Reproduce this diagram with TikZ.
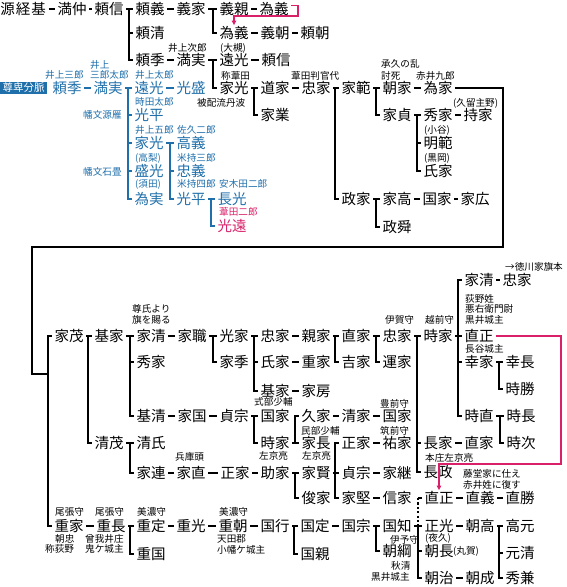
\documentclass[tikz,border=0pt]{standalone}
\usepackage{fontspec}
\setmainfont{Noto Sans CJK JP}
\usetikzlibrary{arrows.meta}
\definecolor{bl}{HTML}{1F6FAB}
\definecolor{pk}{HTML}{D9216A}
\newcommand\famlink[3][]{\foreach \ch in {#3}{\draw[ln,#1] (#2.east) -| ([xshift=-3.5pt]\ch.west) -- (\ch.west);}}
\newcommand\seqlink[3][]{\draw[ln,#1] (#2.east) -- (#3.west);}
\tikzset{
  nm/.style={font=\fontsize{14.5}{15}\selectfont, anchor=west, inner xsep=2.5pt, inner ysep=1pt, xshift=-3.2pt},
  bn/.style={nm, text=bl},
  pn/.style={nm, text=pk},
  an/.style={font=\fontsize{9.6}{10}\selectfont, anchor=west, inner sep=0pt},
  ban/.style={an, text=bl},
  pan/.style={an, text=pk},
  ln/.style={line width=2pt},
  loopln/.style={line width=2.6pt},
  pkln/.style={draw=pk, line width=1.3pt, -{Triangle[length=4.5pt,width=4.5pt]}},
  dotln/.style={line width=2pt, dash pattern=on 2.2pt off 2.2pt},
}
\begin{document}
\begin{tikzpicture}[x=1pt,y=-1pt]
\useasboundingbox (0,0) rectangle (567,587);
% ---------- top black ----------
\node[nm] (genkeiki) at (1,9) {源\hspace{1pt}経\hspace{1pt}基};
\node[nm] (mitsunaka) at (58,9) {満仲};
\node[nm] (yorinobu) at (95,9) {頼信};
\node[nm] (yoriyoshi) at (136,9) {頼義};
\node[nm] (yoshiie) at (177,9) {義家};
\node[nm] (yoshichika) at (220,9) {義親};
\node[nm] (tameyoshi) at (260,9) {為義};
\node[nm] (tameyoshiB) at (220,33) {為義};
\node[nm] (yoshitomo) at (261,33) {義朝};
\node[nm] (yoritomo) at (301,33) {頼朝};
\node[nm] (yorikiyo) at (136,33) {頼清};
\node[nm] (yorisue) at (136,60) {頼季};
\node[nm] (mitsuzane) at (177,60) {満実};
\node[nm] (tomitsu) at (220,60) {遠光};
\node[nm] (yorinobuB) at (262,60) {頼信};
\node[nm] (iemitsu) at (220,88) {家光};
\node[nm] (michiie) at (261,88) {道家};
\node[nm] (tadaie) at (302,88) {忠家};
\node[nm] (ienori) at (342,88) {家範};
\node[nm] (tomoie) at (383,88) {朝家};
\node[nm] (tameie) at (424,88) {為家};
\node[nm] (iegyo) at (261,115) {家業};
\node[nm] (iesada) at (383,115) {家貞};
\node[nm] (hideie) at (424,115) {秀家};
\node[nm] (mochiie) at (464,115) {持家};
\node[nm] (akinori) at (424,143) {明範};
\node[nm] (ujiie) at (424,171) {氏家};
\node[nm] (masaie) at (342,199) {政家};
\node[nm] (ietaka) at (383,199) {家高};
\node[nm] (kuniie) at (423,199) {国家};
\node[nm] (iehiro) at (461,199) {家広};
\node[nm] (masakiyo) at (383,227) {政舜};
\node[an] (t1) at (168,47.5) {井上次郎};
\node[an] (t2) at (220,48.5) {(大槻)};
\node[an] (t3) at (221,75.5) {称葦田};
\node[an] (t4) at (291,75.5) {葦田判官代};
\node[an] (t5) at (381,64) {承久の乱};
\node[an] (t6) at (381,76) {討死};
\node[an] (t7) at (416,76) {赤井九郎};
\node[an] (t8) at (197,103) {被配流丹波};
\node[an] (t9) at (453,103) {(久留主野)};
\node[an] (t10) at (424,130) {(小谷)};
\node[an] (t11) at (424,158.5) {(黒岡)};
% ---------- blue ----------
\node[fill=bl,text=white,font=\fontsize{10.5}{11}\selectfont,minimum width=47pt,minimum height=12.5pt,inner sep=0pt] (sonpi) at (23.5,88) {尊卑分脈};
\node[bn] (bYorisue) at (53,88) {頼季};
\node[bn] (bMitsuzane) at (94,88) {満実};
\node[bn] (bTomitsu) at (135,88) {遠光};
\node[bn] (bMitsumori) at (177,88) {光盛};
\node[bn] (bMitsuhira) at (135,115) {光平};
\node[bn] (bIemitsu) at (135,143) {家光};
\node[bn] (bTakayoshi) at (177,143) {高義};
\node[bn] (bMorimitsu) at (135,171) {盛光};
\node[bn] (bTadayoshi) at (177,171) {忠義};
\node[bn] (bTamezane) at (135,199) {為実};
\node[bn] (bMitsuhiraB) at (177,199) {光平};
\node[bn] (bNagamitsu) at (218,199) {長光};
\node[pn] (pMitsuto) at (218,226) {光遠};
\node[ban] (b1) at (45,75) {井上三郎};
\node[ban] (b2) at (90,64.5) {井上};
\node[ban] (b3) at (90,75) {三郎太郎};
\node[ban] (b4) at (135,75) {井上太郎};
\node[ban] (b5) at (135,102) {時田太郎};
\node[ban] (b6) at (83,115) {幡文源雁};
\node[ban] (b7) at (135,130) {井上五郎};
\node[ban] (b8) at (177,130) {佐久二郎};
\node[ban] (b9) at (135,158) {(高梨)};
\node[ban] (b10) at (83,172) {幡文石畳};
\node[ban] (b11) at (177,158) {米持三郎};
\node[ban] (b12) at (135,184) {(須田)};
\node[ban] (b13) at (177,184) {米持四郎};
\node[ban] (b14) at (219,184) {安木田二郎};
\node[pan] (b15) at (219,212) {葦田二郎};
% ---------- lower ----------
\node[nm] (lIekiyo) at (465,280) {家清};
\node[nm] (lTadaie) at (503,280) {忠家};
\node[an] (c0) at (505,267) {→徳川家旗本};
\node[nm] (iemochi) at (55,336) {家茂};
\node[nm] (motoie) at (95,336) {基家};
\node[nm] (iekiyo) at (137,336) {家清};
\node[nm] (ieoto) at (178,336) {家職};
\node[nm] (mitsuie) at (220,336) {光家};
\node[nm] (tadaieC) at (261,336) {忠家};
\node[nm] (chikaie) at (302,336) {親家};
\node[nm] (naoie) at (342,336) {直家};
\node[nm] (tadaieD) at (383,336) {忠家};
\node[nm] (tokiie) at (424,336) {時家};
\node[nm] (naomasa) at (465,336) {直正};
\node[nm] (hideieB) at (137,362) {秀家};
\node[nm] (iesue) at (220,362) {家季};
\node[nm] (ujiieB) at (261,362) {氏家};
\node[nm] (shigeie) at (302,362) {重家};
\node[nm] (yoshiieB) at (342,362) {吉家};
\node[nm] (kazuie) at (383,362) {運家};
\node[nm] (yukiie) at (465,362) {幸家};
\node[nm] (yukinaga) at (506,362) {幸長};
\node[nm] (tokikatsu) at (506,389) {時勝};
\node[nm] (motoieB) at (261,391) {基家};
\node[nm] (iefusa) at (302,391) {家房};
\node[nm] (motokiyo) at (137,416) {基清};
\node[nm] (iekuni) at (178,416) {家国};
\node[nm] (sadamune) at (220,416) {貞宗};
\node[nm] (kuniieB) at (261,416) {国家};
\node[nm] (hisaie) at (302,416) {久家};
\node[nm] (kiyoie) at (342,416) {清家};
\node[nm] (kuniieC) at (383,416) {国家};
\node[nm] (tokinao) at (465,416) {時直};
\node[nm] (tokinaga) at (507,416) {時長};
\node[nm] (kiyoshige) at (95,443) {清茂};
\node[nm] (kiyouji) at (137,443) {清氏};
\node[nm] (tokiieB) at (261,443) {時家};
\node[nm] (ienaga) at (302,443) {家長};
\node[nm] (masaieB) at (342,443) {正家};
\node[nm] (sukeie) at (383,443) {祐家};
\node[nm] (nagaie) at (424,443) {長家};
\node[nm] (naoieB) at (465,443) {直家};
\node[nm] (tokitsugu) at (507,443) {時次};
\node[nm] (ietsura) at (137,473) {家連};
\node[nm] (ienao) at (177,473) {家直};
\node[nm] (masaieC) at (221,473) {正家};
\node[nm] (sukeieB) at (261,473) {助家};
\node[nm] (iekata) at (302,473) {家賢};
\node[nm] (sadamuneB) at (342,473) {貞宗};
\node[nm] (ietsugu) at (383,473) {家継};
\node[nm] (nagamasa) at (424,472) {長政};
\node[nm] (toshiie) at (302,498) {俊家};
\node[nm] (iekataB) at (342,498) {家堅};
\node[nm] (nobuie) at (383,498) {信家};
\node[nm] (naomasaB) at (425,498) {直正};
\node[nm] (naoyoshi) at (466,498) {直義};
\node[nm] (naokatsu) at (506,498) {直勝};
\node[nm] (shigeieB) at (55,526) {重家};
\node[nm] (shiganaga) at (97,526) {重長};
\node[nm] (shigesada) at (137,526) {重定};
\node[nm] (shigemitsu) at (177,526) {重光};
\node[nm] (shigetomo) at (219,526) {重朝};
\node[nm] (kuniyuki) at (261,526) {国行};
\node[nm] (kunisada) at (301,526) {国定};
\node[nm] (kunimune) at (342,526) {国宗};
\node[nm] (kunitomo) at (383,526) {国知};
\node[nm] (masamitsu) at (425,526) {正光};
\node[nm] (tomotaka) at (466,526) {朝高};
\node[nm] (takamoto) at (506,526) {高元};
\node[nm] (shigekuni) at (137,554) {重国};
\node[nm] (kunichika) at (301,554) {国親};
\node[nm] (tomotsuna) at (383,551) {朝綱};
\node[nm] (tomonaga) at (425,551) {朝長};
\node[nm] (motokiyoB) at (506,553) {元清};
\node[nm] (tomoharu) at (425,578) {朝治};
\node[nm] (tomonari) at (466,578) {朝成};
\node[nm] (hidekane) at (506,578) {秀兼};
\node[an] (c1) at (132,309) {尊氏より};
\node[an] (c2) at (132,320) {旗を賜る};
\node[an] (c3) at (385,320) {伊賀守};
\node[an] (c4) at (425,320) {越前守};
\node[an] (c5) at (465,299) {荻野姓};
\node[an] (c6) at (465,309) {悪右衛門尉};
\node[an] (c7) at (465,320) {黒井城主};
\node[an] (c8) at (465,349) {長谷城主};
\node[an] (c9) at (254,402) {式部少輔};
\node[an] (c10) at (380,404) {豊前守};
\node[an] (c11) at (301,431) {民部少輔};
\node[an] (c12) at (380,431) {筑前守};
\node[an] (c13) at (175,457) {兵庫頭};
\node[an] (c14) at (259,456) {左京亮};
\node[an] (c15) at (302,456) {左京亮};
\node[an] (c16) at (425,458) {本庄左京亮};
\node[an] (c17) at (463,474) {藤堂家に仕え};
\node[an] (c18) at (463,485) {赤井姓に復す};
\node[an] (c19) at (55,512) {尾張守};
\node[an] (c20) at (95,512) {尾張守};
\node[an] (c21) at (137,512) {美濃守};
\node[an] (c22) at (219,512) {美濃守};
\node[an] (c23) at (55,539) {朝忠};
\node[an] (c24) at (45,549) {称荻野};
\node[an] (c25) at (85,539) {曾我井庄};
\node[an] (c26) at (85,549) {鬼ケ城主};
\node[an] (c27) at (217,539) {天田郡};
\node[an] (c28) at (217,550) {小幡ケ城主};
\node[an] (c29) at (425,538) {(夜久)};
\node[an] (c30) at (390,540) {伊予守};
\node[an] (c31) at (453,551) {(丸賀)};
\node[an] (c32) at (391,566) {秋清};
\node[an] (c33) at (371,577) {黒井城主};
% ---------- connectors top ----------
\seqlink{genkeiki}{mitsunaka}
\seqlink{mitsunaka}{yorinobu}
\famlink{yorinobu}{yoriyoshi,yorikiyo,yorisue}
\seqlink{yoriyoshi}{yoshiie}
\famlink{yoshiie}{yoshichika,tameyoshiB}
\seqlink{yoshichika}{tameyoshi}
\seqlink{tameyoshiB}{yoshitomo}
\seqlink{yoshitomo}{yoritomo}
\coordinate (P1) at (298,5.5);
\coordinate (P2) at (298,16);
\draw[pkln] (tameyoshi.east |- P1) -- (P1) -- (P2) -| (tameyoshiB.north);
\seqlink{yorisue}{mitsuzane}
\famlink{mitsuzane}{tomitsu,iemitsu}
\seqlink{tomitsu}{yorinobuB}
\famlink{iemitsu}{michiie,iegyo}
\seqlink{michiie}{tadaie}
\famlink{tadaie}{ienori,masaie}
\famlink{ienori}{tomoie,iesada}
\seqlink{tomoie}{tameie}
\famlink{iesada}{hideie,akinori,ujiie}
\seqlink{hideie}{mochiie}
\famlink{masaie}{ietaka,masakiyo}
\seqlink{ietaka}{kuniie}
\seqlink{kuniie}{iehiro}
% ---------- blue connectors ----------
\seqlink[bl]{bYorisue}{bMitsuzane}
\famlink[bl]{bMitsuzane}{bTomitsu,bMitsuhira,bIemitsu,bMorimitsu,bTamezane}
\seqlink[bl]{bTomitsu}{bMitsumori}
\famlink[bl]{bIemitsu}{bTakayoshi,bTadayoshi,bMitsuhiraB}
\famlink[bl]{bMitsuhiraB}{bNagamitsu,pMitsuto}
% ---------- big loop ----------
\path ([xshift=-3.5pt]iemochi.west) coordinate (Jt);
\coordinate (Jy) at (0,374);
\coordinate (J) at (Jt |- Jy);
\coordinate (L1) at (503,247);
\coordinate (L2) at (32,374);
\draw[loopln] (tameie.east) -| (L1) -| (L2) -- (J);
\draw[ln] (J) |- (iemochi.west);
\draw[ln] (J) |- (shigeieB.west);
% ---------- lower connectors ----------
\seqlink{lIekiyo}{lTadaie}
\famlink{iemochi}{motoie,kiyoshige}
\famlink{motoie}{iekiyo,hideieB,motokiyo}
\seqlink{iekiyo}{ieoto}
\famlink{ieoto}{mitsuie,iesue}
\famlink{mitsuie}{tadaieC,ujiieB,motoieB}
\seqlink{tadaieC}{chikaie}
\seqlink{ujiieB}{shigeie}
\seqlink{motoieB}{iefusa}
\famlink{chikaie}{naoie,yoshiieB}
\famlink{naoie}{tadaieD,kazuie}
\famlink{tadaieD}{tokiie,nagaie,nagamasa}
\famlink{tokiie}{lIekiyo,naomasa,yukiie,tokinao}
\famlink{yukiie}{yukinaga,tokikatsu}
\famlink{tokinao}{tokinaga,tokitsugu}
\seqlink{nagaie}{naoieB}
\coordinate (Q1) at (561,464);
\draw[pkln] (naomasa.east) -| (Q1) -| (naomasaB.north);
\seqlink{motokiyo}{iekuni}
\seqlink{iekuni}{sadamune}
\famlink{sadamune}{kuniieB,tokiieB}
\famlink{tokiieB}{hisaie,ienaga}
\seqlink{hisaie}{kiyoie}
\seqlink{kiyoie}{kuniieC}
\famlink{kiyoshige}{kiyouji,ietsura}
\seqlink{ietsura}{ienao}
\seqlink{ienao}{masaieC}
\seqlink{masaieC}{sukeieB}
\famlink{sukeieB}{iekata,toshiie}
\famlink{iekata}{masaieB,sadamuneB,iekataB}
\seqlink{masaieB}{sukeie}
\seqlink{sadamuneB}{ietsugu}
\seqlink{iekataB}{nobuie}
\draw[dotln] ([xshift=-3.5pt]naomasaB.west) -- ([xshift=-3.5pt]masamitsu.west);
\draw[ln] ([xshift=-3.5pt]naomasaB.west) -- (naomasaB.west);
\seqlink{naomasaB}{naoyoshi}
\seqlink{naoyoshi}{naokatsu}
\seqlink{shigeieB}{shiganaga}
\famlink{shiganaga}{shigesada,shigekuni}
\seqlink{shigesada}{shigemitsu}
\seqlink{shigemitsu}{shigetomo}
\seqlink{shigetomo}{kuniyuki}
\famlink{kuniyuki}{kunisada,kunichika}
\seqlink{kunisada}{kunimune}
\famlink{kunimune}{kunitomo,tomotsuna}
\famlink{kunitomo}{masamitsu,tomonaga,tomoharu}
\seqlink{masamitsu}{tomotaka}
\seqlink{tomoharu}{tomonari}
\famlink{tomotaka}{takamoto,motokiyoB,hidekane}
\end{tikzpicture}
\end{document}
